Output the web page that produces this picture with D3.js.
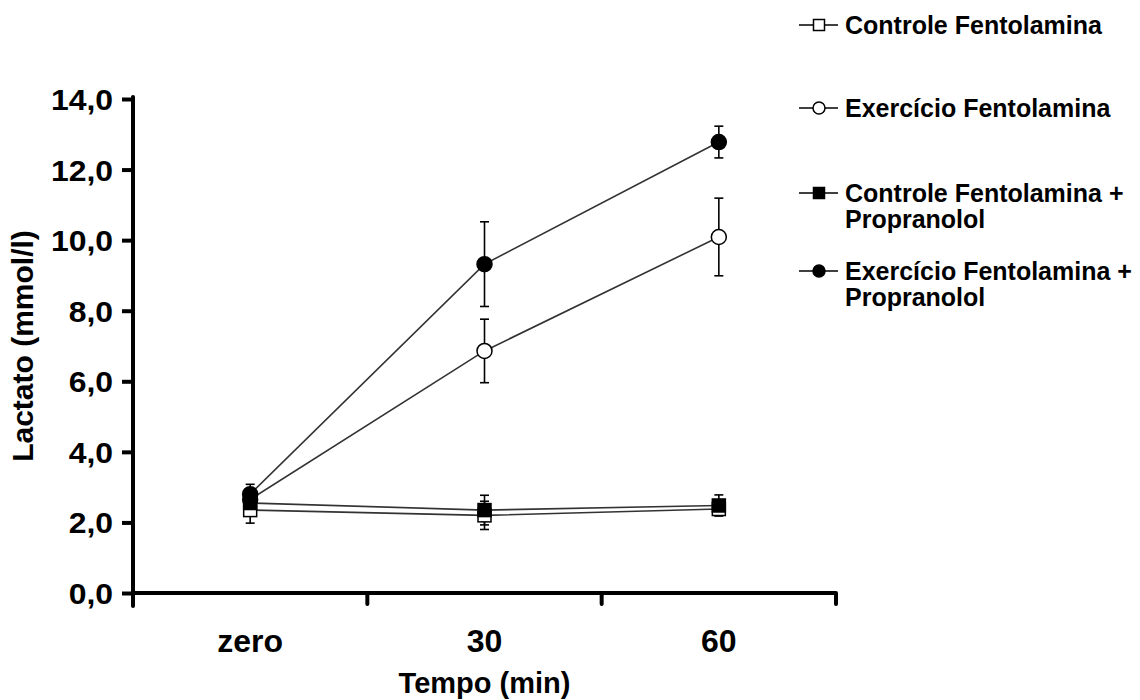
<!DOCTYPE html>
<html>
<head>
<meta charset="utf-8">
<script src="https://cdn.jsdelivr.net/npm/d3@7/dist/d3.min.js"></script>
<style>
  html, body { margin: 0; padding: 0; background: #fff; }
  svg { display: block; }
  text { font-family: "Liberation Sans", Arial, Helvetica, sans-serif; font-weight: bold; fill: #000; }
</style>
</head>
<body>
<svg id="chart" width="1140" height="700"></svg>
<script>
// Time points (x categories)
const categories = ["zero", "30", "60"];
// Y axis tick values
const yTicks = [0, 2, 4, 6, 8, 10, 12, 14];

// Series: mean lactate (mmol/l) and SEM at each time point
const controleFento      = [2.35, 2.20, 2.38];
const controleFentoErr   = [0.37, 0.40, 0.15];
const exercicioFento     = [2.65, 6.86, 10.09];
const exercicioFentoErr  = [0.30, 0.90, 1.10];
const controleFentoProp     = [2.55, 2.35, 2.48];
const controleFentoPropErr  = [0.30, 0.42, 0.30];
const exercicioFentoProp    = [2.80, 9.32, 12.78];
const exercicioFentoPropErr = [0.28, 1.20, 0.45];

const seriesNames = [
  ["Controle Fentolamina"],
  ["Exercício Fentolamina"],
  ["Controle Fentolamina +", "Propranolol"],
  ["Exercício Fentolamina +", "Propranolol"]
];

const series = [
  { name: seriesNames[0], values: controleFento, err: controleFentoErr, shape: "square", filled: false },
  { name: seriesNames[1], values: exercicioFento, err: exercicioFentoErr, shape: "circle", filled: false },
  { name: seriesNames[2], values: controleFentoProp, err: controleFentoPropErr, shape: "square", filled: true },
  { name: seriesNames[3], values: exercicioFentoProp, err: exercicioFentoPropErr, shape: "circle", filled: true }
];

const svg = d3.select("#chart");

const plotLeft = 133, plotRight = 836, plotTop = 99, plotBottom = 593;

const x = d3.scaleBand().domain(categories).range([plotLeft, plotRight]).paddingInner(0).paddingOuter(0);
const y = d3.scaleLinear().domain([0, 14]).range([plotBottom, plotTop]);

const locale = d3.formatLocale({ decimal: ",", thousands: ".", grouping: [3], currency: ["R$", ""] });
const fmt = locale.format(".1f");

// Y axis
const yAxis = d3.axisLeft(y).tickValues(yTicks).tickFormat(fmt).tickSize(11).tickSizeOuter(0).tickPadding(9);
const gy = svg.append("g").attr("transform", `translate(${plotLeft},0)`).call(yAxis);
gy.select(".domain").remove();
gy.selectAll(".tick line").attr("stroke", "#000").attr("stroke-width", 4);
gy.selectAll(".tick text")
  .style("font-size", "29px")
  .attr("dy", "0.36em")
  .attr("x", 0)
  .attr("transform", "translate(-20,0) scale(1.1,1)");
svg.append("line")
  .attr("x1", plotLeft).attr("x2", plotLeft)
  .attr("y1", y(14) - 2).attr("y2", plotBottom + 13)
  .attr("stroke", "#000").attr("stroke-width", 4).attr("stroke-linecap", "round");

// X axis: labels centred in each band, ticks on band boundaries
const xAxis = d3.axisBottom(x).tickSize(0).tickPadding(36);
const gx = svg.append("g").attr("transform", `translate(0,${plotBottom})`).call(xAxis);
gx.select(".domain").remove();
gx.selectAll(".tick text").style("font-size", "32px");
svg.append("line")
  .attr("x1", plotLeft).attr("x2", plotRight)
  .attr("y1", plotBottom).attr("y2", plotBottom)
  .attr("stroke", "#000").attr("stroke-width", 4);
const boundaries = categories.map(c => x(c) + x.bandwidth());
svg.selectAll(".xtick").data(boundaries).enter().append("line")
  .attr("class", "xtick")
  .attr("x1", d => d).attr("x2", d => d)
  .attr("y1", plotBottom).attr("y2", plotBottom + 11)
  .attr("stroke", "#000").attr("stroke-width", 4).attr("stroke-linecap", "round");

// Axis titles
svg.append("text")
  .attr("x", (plotLeft + plotRight) / 2).attr("y", 693)
  .attr("text-anchor", "middle")
  .style("font-size", "29px")
  .text("Tempo (min)");
svg.append("text")
  .attr("transform", `translate(33,${(y(7))}) rotate(-90)`)
  .attr("text-anchor", "middle")
  .style("font-size", "30px")
  .text("Lactato (mmol/l)");

const cx = c => x(c) + x.bandwidth() / 2;

// Connecting lines
const line = d3.line().x((d, i) => cx(categories[i])).y(d => y(d));
series.forEach(s => {
  svg.append("path").datum(s.values)
    .attr("d", line)
    .attr("fill", "none").attr("stroke", "#333").attr("stroke-width", 1.6);
});

// Error bars
const capW = 4.5;
series.forEach(s => {
  const g = svg.append("g").attr("stroke", "#000").attr("stroke-width", 1.6);
  s.values.forEach((v, i) => {
    const px = cx(categories[i]);
    const hi = y(v + s.err[i]), lo = y(v - s.err[i]);
    g.append("line").attr("x1", px).attr("x2", px).attr("y1", hi).attr("y2", lo);
    g.append("line").attr("x1", px - capW).attr("x2", px + capW).attr("y1", hi).attr("y2", hi);
    g.append("line").attr("x1", px - capW).attr("x2", px + capW).attr("y1", lo).attr("y2", lo);
  });
});

// Markers
function drawMarker(g, shape, filled, px, py, size) {
  if (shape === "circle") {
    g.append("circle").attr("cx", px).attr("cy", py).attr("r", size / 2)
      .attr("fill", filled ? "#000" : "#fff").attr("stroke", "#000").attr("stroke-width", 1.5);
  } else {
    g.append("rect").attr("x", px - size / 2).attr("y", py - size / 2)
      .attr("width", size).attr("height", size)
      .attr("fill", filled ? "#000" : "#fff").attr("stroke", "#000").attr("stroke-width", 1.5);
  }
}
series.forEach(s => {
  const g = svg.append("g");
  s.values.forEach((v, i) => {
    drawMarker(g, s.shape, s.filled, cx(categories[i]), y(v), s.shape === "circle" ? 15 : 13);
  });
});

// Legend
const legendRows = [25, 108, 193, 271];
series.forEach((s, i) => {
  const ly = legendRows[i];
  const g = svg.append("g");
  g.append("line").attr("x1", 799).attr("x2", 838).attr("y1", ly).attr("y2", ly)
    .attr("stroke", "#000").attr("stroke-width", 1.5);
  drawMarker(g, s.shape, s.filled, 819, ly, s.shape === "circle" ? 12 : 11);
  s.name.forEach((t, k) => {
    g.append("text").attr("x", 845).attr("y", ly + k * 26).attr("dy", "0.36em")
      .style("font-size", "25px").text(t);
  });
});
</script>
</body>
</html>
